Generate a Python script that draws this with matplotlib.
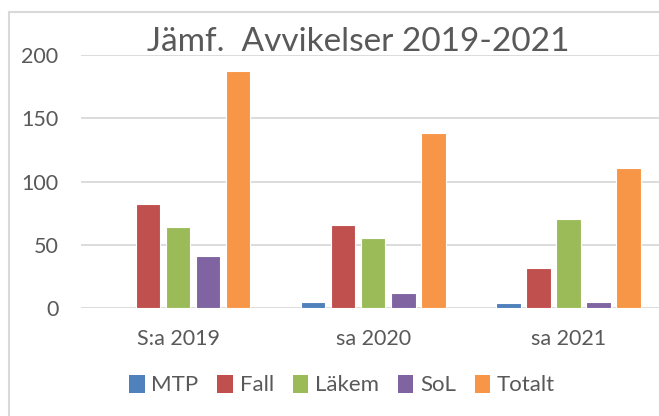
import matplotlib
matplotlib.use('Agg')
import matplotlib.pyplot as plt
from matplotlib.patches import Patch, Rectangle
import numpy as np

kategorier = ['S:a 2019', 'sa 2020', 'sa 2021']
serier = ['MTP', 'Fall', 'Läkem', 'SoL', 'Totalt']
mtp = [0, 5, 4]
fall = [82, 66, 32]
lakem = [64, 55, 70]
sol = [41, 12, 5]
totalt = [187, 138, 111]
farger = ['#4F81BD', '#C0504D', '#9BBB59', '#8064A2', '#F79646']

plt.rcParams['font.family'] = ['Lato', 'DejaVu Sans']
textfarg = '#595959'

fig = plt.figure(figsize=(6.59, 4.16), dpi=100)
ax = fig.add_axes([80.6 / 659, 1 - 308 / 416, (666 - 80.6) / 659, (308 - 55) / 416])

x = np.arange(len(kategorier))
steg = 0.154
bredd = 0.125
varden = [mtp, fall, lakem, sol, totalt]
for i, (namn, v) in enumerate(zip(serier, varden)):
    ax.bar(x + (i - 2) * steg, v, bredd, color=farger[i], edgecolor='white',
           linewidth=0.8, zorder=3, label=namn)

ax.set_xlim(-0.5, 2.5)
ax.set_ylim(0, 200)
ax.set_yticks([0, 50, 100, 150, 200])
ax.yaxis.grid(True, color='#D9D9D9', linewidth=1.3, zorder=0)
for s in ax.spines.values():
    s.set_visible(False)
ax.set_xticks(x)
ax.set_xticklabels(kategorier)
ax.tick_params(axis='both', length=0, labelsize=15.5, labelcolor=textfarg)
ax.tick_params(axis='y', pad=16)
ax.tick_params(axis='x', pad=15)

fig.text(358 / 659, 1 - 42 / 416, 'Jämf.  Avvikelser 2019-2021', ha='center', va='center',
         fontsize=24, color=textfarg)

handles = [Patch(facecolor=f, edgecolor='none') for f in farger]
fig.legend(handles, serier, loc='center', bbox_to_anchor=(342 / 659, 1 - 385 / 416),
           ncol=5, frameon=False, fontsize=16, labelcolor=textfarg,
           handlelength=0.7, handleheight=0.9, handletextpad=0.3, columnspacing=0.85)

# ram runt diagrammet
fig.patches.append(Rectangle((8.5 / 659, -0.1), 1.2, 1.1 - 11.5 / 416, transform=fig.transFigure,
                             fill=False, edgecolor='#D9D9D9', linewidth=1.5))

plt.savefig('out.png', dpi=100)
